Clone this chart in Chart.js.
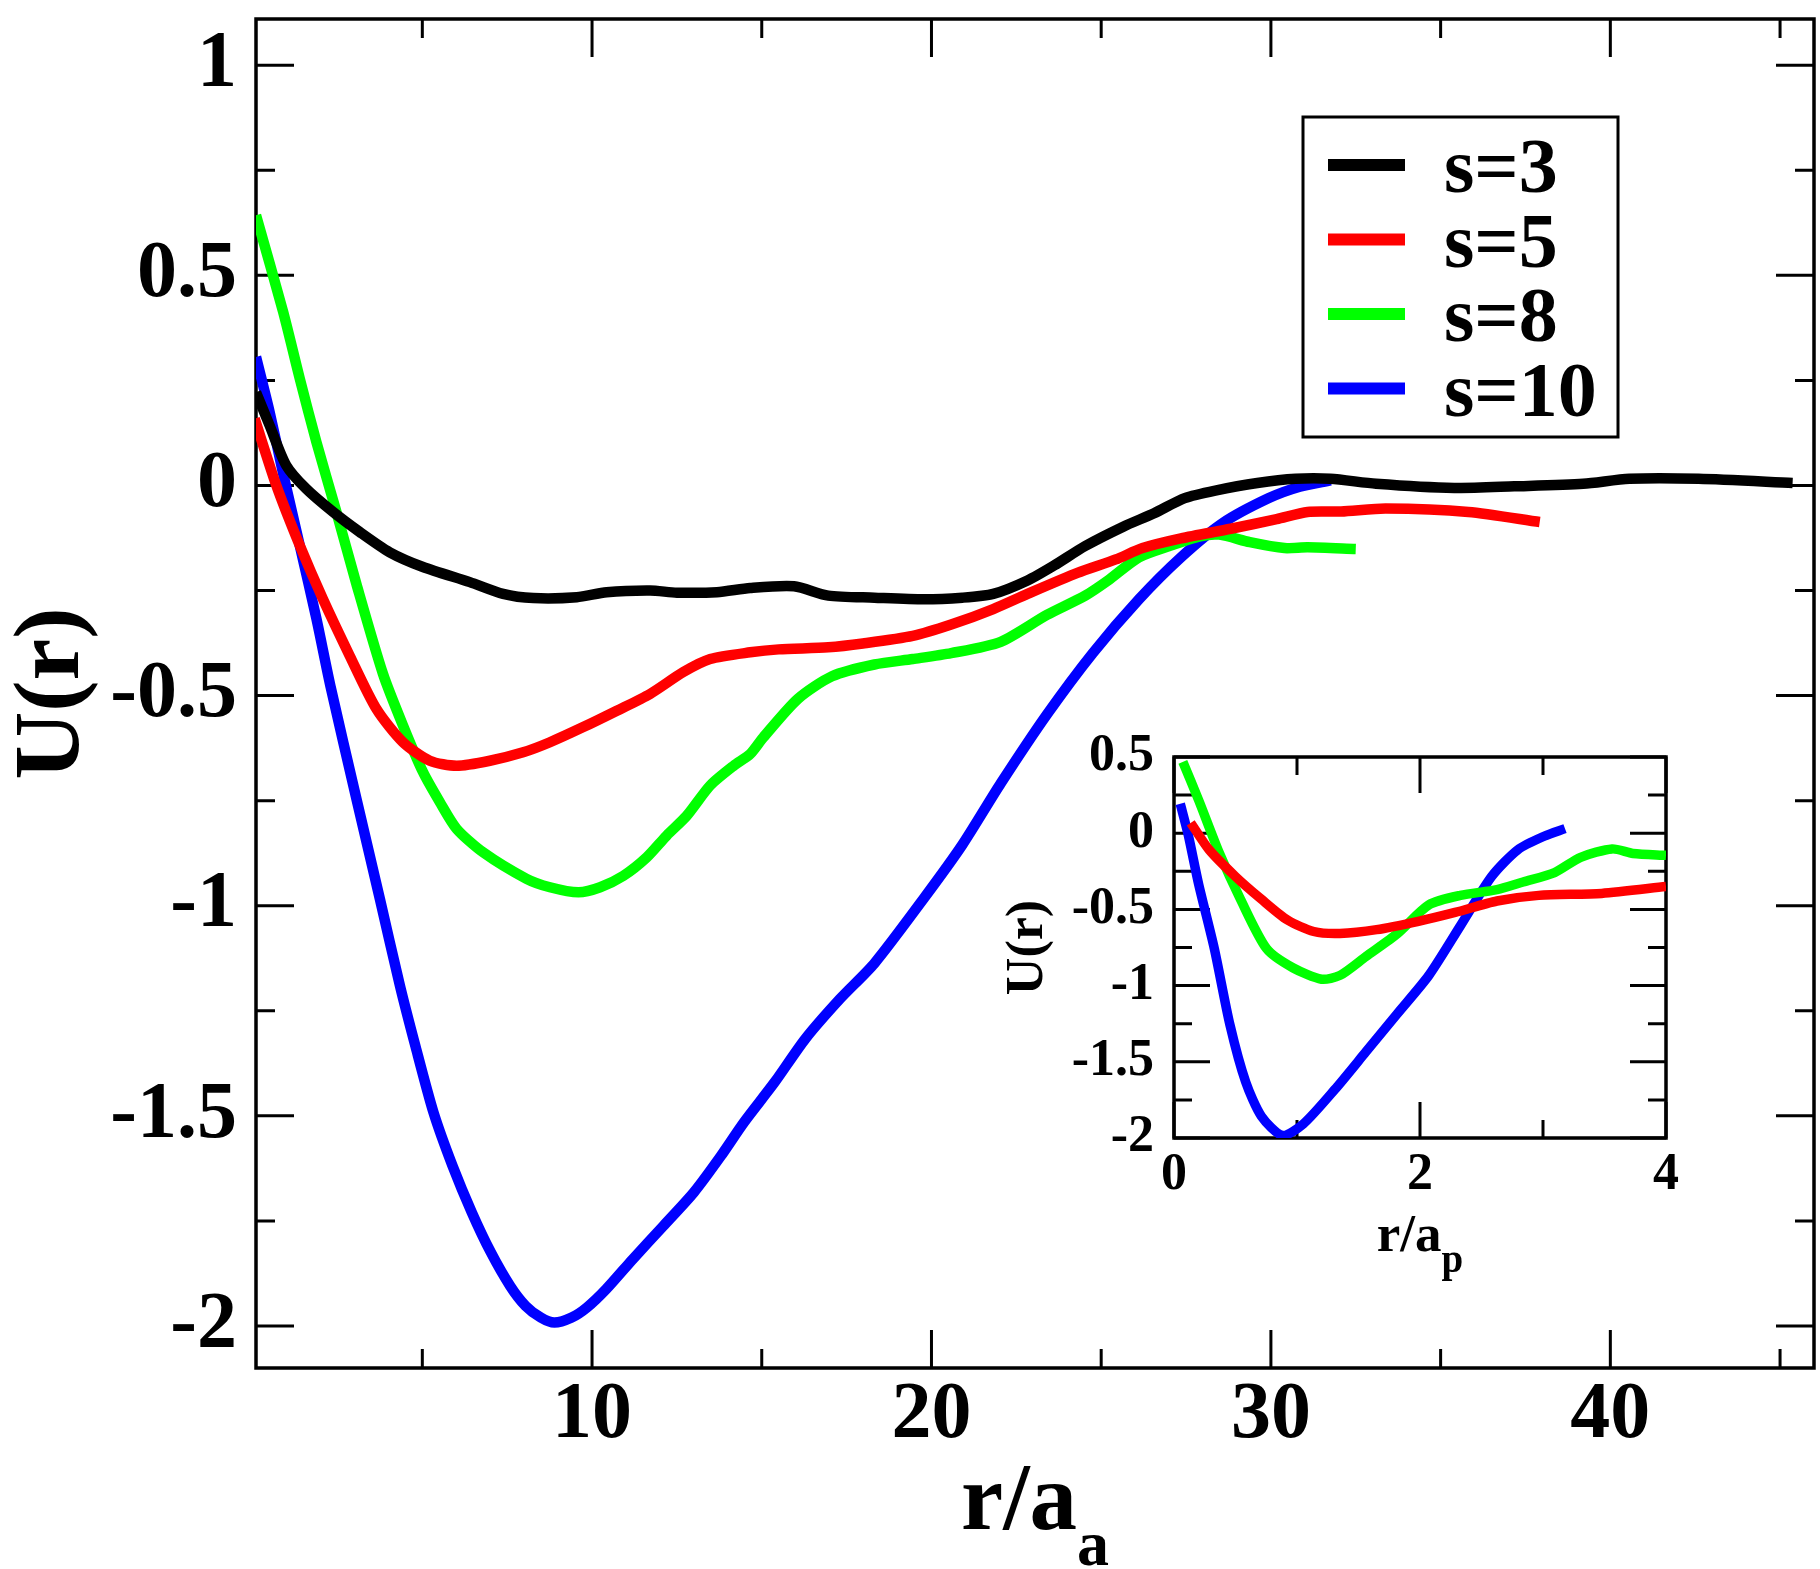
<!DOCTYPE html>
<html lang="en">
<head>
<meta charset="UTF-8">
<title>U(r) vs r/a</title>
<script src="https://cdn.jsdelivr.net/npm/chart.js@4"></script>
<style>
  body { margin: 0; background: #fff; }
  #wrap { position: relative; width: 1820px; height: 1569px; }
  #wrap canvas { position: absolute; left: 0; top: 0; }
</style>
</head>
<body>
<div id="wrap">
  <canvas id="mainChart" width="1820" height="1569"></canvas>
  <canvas id="insetChart" width="1820" height="1569"></canvas>
</div>
<script>
// ---- series ----
const seriesLabels = ['s=3', 's=5', 's=8', 's=10'];
const seriesColors = ['#000000', '#ff0000', '#00ff00', '#0000ff'];

// main panel, x = r/a_a
const s3R = [0.1, 0.5, 0.99, 1.58, 2.37, 3.16, 4.04, 5.02, 6.4, 7.38, 8.27, 9.55, 10.43, 11.71, 12.5, 13.68, 14.66, 15.95, 16.96, 18.32,
             19.78, 20.91, 21.82, 22.83, 23.62, 24.53, 25.65, 26.56, 27.46, 28.36, 29.6, 30.73, 31.75, 33.1, 35.4, 37.17, 39.2, 40.56, 42.6, 45.37];
const s3U = [0.222, 0.143, 0.048, -0.008, -0.063, -0.111, -0.159, -0.194, -0.23, -0.258, -0.268, -0.266, -0.254, -0.25, -0.255, -0.254, -0.244, -0.24, -0.262, -0.267,
             -0.271, -0.267, -0.258, -0.226, -0.19, -0.144, -0.098, -0.066, -0.03, -0.012, 0.006, 0.016, 0.016, 0.004, -0.006, -0.002, 0.004, 0.016, 0.016, 0.006];

const s5R = [0.06, 0.7, 1.39, 2.07, 2.86, 3.65, 4.43, 5.22, 6.01, 6.99, 7.97, 8.76, 9.74, 10.73, 11.71, 12.69, 13.48, 14.66, 15.5, 16.96,
             17.98, 19.45, 20.58, 21.82, 22.83, 24.3, 25.43, 26.22, 27.35, 28.82, 30.17, 31.08, 32.07, 33.38, 35.82, 37.92];
const s5U = [0.159, 0.0, -0.143, -0.27, -0.405, -0.532, -0.611, -0.655, -0.667, -0.655, -0.635, -0.611, -0.575, -0.536, -0.496, -0.444, -0.413, -0.397, -0.39, -0.385,
             -0.376, -0.358, -0.331, -0.294, -0.258, -0.208, -0.176, -0.149, -0.126, -0.103, -0.08, -0.063, -0.062, -0.055, -0.063, -0.087];

const s8R = [0.1, 0.9, 1.39, 1.88, 2.47, 3.06, 3.84, 4.43, 5.02, 5.52, 6.01, 6.79, 8.07, 8.76, 9.6, 10.24, 10.92, 11.61, 12.2, 12.79,
             13.48, 14.17, 14.66, 15.04, 16.06, 17.07, 18.32, 19.45, 20.58, 22.04, 23.4, 24.53, 25.2, 26.11, 27.01, 27.91, 28.48, 29.38, 30.4, 31.08, 32.5];
const s8U = [0.643, 0.413, 0.254, 0.103, -0.063, -0.235, -0.448, -0.571, -0.682, -0.754, -0.817, -0.873, -0.936, -0.956, -0.968, -0.956, -0.929, -0.885, -0.833, -0.786,
             -0.714, -0.667, -0.639, -0.6, -0.508, -0.454, -0.426, -0.413, -0.399, -0.372, -0.308, -0.262, -0.226, -0.171, -0.144, -0.121, -0.117, -0.135, -0.149, -0.147, -0.151];

const s10R = [0.1, 0.5, 0.89, 1.39, 1.88, 2.3, 3.06, 3.75, 4.34, 4.8, 5.33, 5.89, 6.46, 7.02, 7.59, 8.04, 8.49, 8.89, 9.4, 9.85,
              10.41, 11.2, 12.1, 13.0, 13.8, 14.47, 15.38, 16.28, 17.3, 18.32, 19.78, 20.91, 22.04, 23.4, 24.75, 26.11, 27.35, 28.59, 29.94, 30.85, 31.76];
const s10U = [0.306, 0.175, 0.032, -0.143, -0.317, -0.48, -0.746, -0.984, -1.19, -1.335, -1.492, -1.619, -1.73, -1.825, -1.905, -1.952, -1.98, -1.992, -1.98, -1.956,
              -1.913, -1.841, -1.762, -1.682, -1.595, -1.516, -1.42, -1.317, -1.222, -1.137, -0.982, -0.855, -0.709, -0.545, -0.399, -0.271, -0.171, -0.089, -0.03, -0.003, 0.012];

// inset, x = r/a_p
const in5R = [0.136, 0.285, 0.498, 0.71, 0.923, 1.136, 1.349, 1.647, 1.987, 2.285, 2.626, 2.966, 3.477, 4.0];
const in5U = [0.068, -0.108, -0.283, -0.433, -0.57, -0.645, -0.658, -0.633, -0.578, -0.52, -0.445, -0.408, -0.395, -0.35];
const in8R = [0.072, 0.2, 0.37, 0.54, 0.753, 0.966, 1.2, 1.349, 1.562, 1.817, 2.072, 2.328, 2.626, 2.838, 3.094, 3.306, 3.562, 3.732, 4.0];
const in8U = [0.468, 0.218, -0.133, -0.433, -0.758, -0.883, -0.958, -0.933, -0.808, -0.658, -0.47, -0.408, -0.37, -0.32, -0.258, -0.158, -0.103, -0.133, -0.145];
const in10R = [0.051, 0.115, 0.2, 0.328, 0.455, 0.583, 0.711, 0.881, 1.051, 1.306, 1.562, 1.817, 2.072, 2.328, 2.583, 2.796, 3.009, 3.179];
const in10U = [0.193, -0.008, -0.333, -0.758, -1.258, -1.633, -1.858, -1.983, -1.908, -1.683, -1.433, -1.183, -0.933, -0.608, -0.283, -0.108, -0.02, 0.03];

// ---- ticks ----
const mainXLabels = [10, 20, 30, 40];
const mainXMinor = [5, 15, 25, 35, 45];
const mainYLabels = [-2, -1.5, -1, -0.5, 0, 0.5, 1];
const mainYMinor = [-1.75, -1.25, -0.75, -0.25, 0.25, 0.75];
const insetXLabels = [0, 2, 4];
const insetXMinor = [1, 3];
const insetYLabels = [-2, -1.5, -1, -0.5, 0, 0.5];
const insetYMinor = [-1.75, -1.25, -0.75, -0.25, 0.25];

const FONT = '"Liberation Serif", "Times New Roman", serif';
const pts = (xs, ys) => xs.map((x, i) => ({ x: x, y: ys[i] }));

// box with inward ticks on all four sides
const frameTicks = {
    id: 'frameTicks',
    beforeDatasetsDraw(chart, args, o) {
        const { ctx, chartArea: a, scales: { x, y } } = chart;
        ctx.save();
        ctx.strokeStyle = '#000';
        ctx.lineWidth = o.tickWidth;
        ctx.beginPath();
        const markX = (vals, len) => vals.forEach(v => {
            const px = x.getPixelForValue(v);
            ctx.moveTo(px, a.bottom); ctx.lineTo(px, a.bottom - len);
            ctx.moveTo(px, a.top); ctx.lineTo(px, a.top + len);
        });
        const markY = (vals, len) => vals.forEach(v => {
            const py = y.getPixelForValue(v);
            ctx.moveTo(a.left, py); ctx.lineTo(a.left + len, py);
            ctx.moveTo(a.right, py); ctx.lineTo(a.right - len, py);
        });
        markX(o.xMajor, o.major); markX(o.xMinor, o.minor);
        markY(o.yMajor, o.major); markY(o.yMinor, o.minor);
        ctx.stroke();
        ctx.lineWidth = o.frameWidth;
        ctx.strokeRect(a.left, a.top, a.width, a.height);
        ctx.restore();
    }
};

// axis titles (x title has a subscript)
const axisTitles = {
    id: 'axisTitles',
    afterDraw(chart, args, o) {
        const { ctx, chartArea: a } = chart;
        ctx.save();
        ctx.fillStyle = '#000';
        ctx.textBaseline = 'alphabetic';
        ctx.textAlign = 'left';
        const mainFont = 'bold ' + o.xSize + 'px ' + FONT;
        const subFont = 'bold ' + o.subSize + 'px ' + FONT;
        ctx.font = mainFont;
        const w1 = ctx.measureText(o.xMain).width;
        ctx.font = subFont;
        const w2 = ctx.measureText(o.xSub).width;
        const x0 = (a.left + a.right) / 2 - (w1 + w2) / 2;
        const base = a.bottom + o.xBase;
        ctx.font = mainFont;
        ctx.fillText(o.xMain, x0, base);
        ctx.font = subFont;
        ctx.fillText(o.xSub, x0 + w1, base + o.subDrop);

        ctx.translate(a.left + o.yBase, (a.top + a.bottom) / 2);
        ctx.rotate(-Math.PI / 2);
        ctx.textAlign = 'center';
        ctx.font = 'bold ' + o.ySize + 'px ' + FONT;
        ctx.fillText(o.yText, 0, 0);
        ctx.restore();
    }
};

// framed legend inside the main panel
const boxLegend = {
    id: 'boxLegend',
    afterDraw(chart, args, o) {
        const { ctx } = chart;
        ctx.save();
        ctx.fillStyle = '#fff';
        ctx.fillRect(o.left, o.top, o.width, o.height);
        ctx.strokeStyle = '#000';
        ctx.lineWidth = o.frameWidth;
        ctx.strokeRect(o.left, o.top, o.width, o.height);
        ctx.font = 'bold ' + o.size + 'px ' + FONT;
        ctx.textBaseline = 'alphabetic';
        ctx.textAlign = 'left';
        chart.data.datasets.forEach((ds, i) => {
            const base = o.firstBase + i * o.rowGap;
            ctx.strokeStyle = ds.borderColor;
            ctx.lineWidth = o.lineWidth;
            ctx.beginPath();
            ctx.moveTo(o.lineX0, base - o.lineRaise);
            ctx.lineTo(o.lineX1, base - o.lineRaise);
            ctx.stroke();
            ctx.fillStyle = '#000';
            ctx.fillText(ds.label, o.textX, base);
        });
        ctx.restore();
    }
};

function lineSet(label, color, data, width) {
    return { label: label, data: data, borderColor: color, backgroundColor: color,
             borderWidth: width, pointRadius: 0, tension: 0.25, fill: false, borderJoinStyle: 'round' };
}

function scale(min, max, labels, fontSize, pad, fixSize) {
    return {
        type: 'linear', min: min, max: max,
        afterBuildTicks: s => { s.ticks = labels.map(v => ({ value: v })); },
        afterFit: s => {
            fixSize(s);
            // keep the plot box where it is, labels may overhang
            s.paddingTop = 0; s.paddingBottom = 0; s.paddingLeft = 0; s.paddingRight = 0;
        },
        grid: { display: false, drawTicks: false },
        border: { display: false },
        ticks: { color: '#000', padding: pad, autoSkip: false, maxRotation: 0,
                 font: { family: FONT, weight: 'bold', size: fontSize },
                 callback: v => String(v) }
    };
}

new Chart(document.getElementById('mainChart'), {
    type: 'line',
    data: {
        datasets: [
            lineSet(seriesLabels[0], seriesColors[0], pts(s3R, s3U), 10.5),
            lineSet(seriesLabels[1], seriesColors[1], pts(s5R, s5U), 10.5),
            lineSet(seriesLabels[2], seriesColors[2], pts(s8R, s8U), 10.5),
            lineSet(seriesLabels[3], seriesColors[3], pts(s10R, s10U), 10.5)
        ]
    },
    options: {
        responsive: false,
        animation: false,
        devicePixelRatio: 1,
        layout: { padding: { left: 0, top: 19, right: 6, bottom: 0 } },
        plugins: {
            legend: { display: false },
            tooltip: { enabled: false },
            frameTicks: { xMajor: mainXLabels, xMinor: mainXMinor, yMajor: mainYLabels, yMinor: mainYMinor,
                          major: 38, minor: 19, tickWidth: 3, frameWidth: 3.5 },
            axisTitles: { xMain: 'r/a', xSub: 'a', xSize: 95, subSize: 64, xBase: 161, subDrop: 36,
                          yText: 'U(r)', ySize: 94, yBase: -178 },
            boxLegend: { left: 1303, top: 117, width: 315, height: 320, frameWidth: 3,
                         lineX0: 1328, lineX1: 1405, lineWidth: 12, lineRaise: 27,
                         textX: 1444, firstBase: 192, rowGap: 74.5, size: 78 }
        },
        scales: {
            x: scale(0.1, 46, mainXLabels, 80, 0, s => { s.height = 201; }),
            y: scale(-2.1, 1.11, mainYLabels, 80, 19, s => { s.width = 256; })
        }
    },
    plugins: [frameTicks, axisTitles, boxLegend]
});

new Chart(document.getElementById('insetChart'), {
    type: 'line',
    data: {
        datasets: [
            lineSet(seriesLabels[1], seriesColors[1], pts(in5R, in5U), 9.5),
            lineSet(seriesLabels[2], seriesColors[2], pts(in8R, in8U), 9.5),
            lineSet(seriesLabels[3], seriesColors[3], pts(in10R, in10U), 9.5)
        ]
    },
    options: {
        responsive: false,
        animation: false,
        devicePixelRatio: 1,
        layout: { padding: { left: 0, top: 757, right: 154, bottom: 0 } },
        plugins: {
            legend: { display: false },
            tooltip: { enabled: false },
            frameTicks: { xMajor: insetXLabels, xMinor: insetXMinor, yMajor: insetYLabels, yMinor: insetYMinor,
                          major: 36, minor: 18, tickWidth: 3, frameWidth: 3.5 },
            axisTitles: { xMain: 'r/a', xSub: 'p', xSize: 53, subSize: 39, xBase: 113, subDrop: 21,
                          yText: 'U(r)', ySize: 52, yBase: -132 }
        },
        scales: {
            x: scale(0, 4, insetXLabels, 52, 6, s => { s.height = 431; }),
            y: scale(-2, 0.5, insetYLabels, 52, 20, s => { s.width = 1174; })
        }
    },
    plugins: [frameTicks, axisTitles]
});
</script>
</body>
</html>
